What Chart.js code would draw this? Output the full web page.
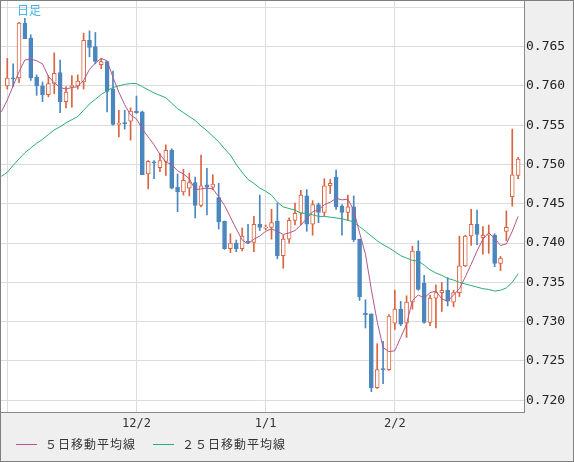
<!DOCTYPE html>
<html>
<head>
<meta charset="utf-8">
<script src="https://cdn.jsdelivr.net/npm/chart.js@4.4.1/dist/chart.umd.min.js"></script>
<style>
html, body { margin: 0; padding: 0; background: #efefef; }
#wrap { position: relative; width: 574px; height: 462px; }
#tag { position: absolute; left: 17px; top: 2px; font: 12px "Noto Sans CJK JP"; line-height: 16px; color: #3fb5e6; }
.lg-line { position: absolute; top: 444px; width: 21px; height: 0; border-top: 1px solid; }
.lg-text { position: absolute; top: 436px; font: 12px "Noto Sans CJK JP"; line-height: 16px; letter-spacing: 1px; color: #333; }
</style>
</head>
<body>
<div id="wrap">
  <canvas id="fx-canvas" width="574" height="462"></canvas>
  <div id="tag">日足</div>
  <div class="lg-line" style="left:16px;border-color:#b5578a"></div>
  <div class="lg-text" style="left:45px">５日移動平均線</div>
  <div class="lg-line" style="left:153px;border-color:#2aae76"></div>
  <div class="lg-text" style="left:182px">２５日移動平均線</div>
</div>
<script>
// ========== Colors
let upColor = '#d9643f';
let downColor = '#4b87bf';
let ma5Color = '#b5578a';
let ma25Color = '#2aae76';
let gridColor = '#dcdcdc';

// ========== Daily candles (index 0 = first candle on screen)
let opens = [
    0.7600, 0.7610, 0.7610, 0.7680, 0.7661, 0.7611, 0.7600, 0.7589, 0.7603, 0.7617,
    0.7580, 0.7599, 0.7600, 0.7605, 0.7658, 0.7650, 0.7627, 0.7631, 0.7596, 0.7551,
    0.7553, 0.7555, 0.7568, 0.7567, 0.7488, 0.7503, 0.7496, 0.7504, 0.7518, 0.7471,
    0.7465, 0.7470, 0.7477, 0.7448, 0.7474, 0.7471, 0.7458, 0.7428, 0.7393, 0.7400,
    0.7393, 0.7402, 0.7401, 0.7424, 0.7419, 0.7420, 0.7428, 0.7384, 0.7405, 0.7429,
    0.7438, 0.7460, 0.7424, 0.7449, 0.7439, 0.7473, 0.7484, 0.7447, 0.7439, 0.7446,
    0.7405, 0.7311, 0.7310, 0.7216, 0.7240, 0.7239, 0.7298, 0.7316, 0.7298, 0.7325,
    0.7390, 0.7349, 0.7299, 0.7330, 0.7337, 0.7340, 0.7325, 0.7337, 0.7371, 0.7409,
    0.7424, 0.7407, 0.7410, 0.7410, 0.7374, 0.7415, 0.7459, 0.7486
];
let highs = [
    0.7635, 0.7628, 0.7681, 0.7686, 0.7665, 0.7614, 0.7605, 0.7613, 0.7642, 0.7633,
    0.7599, 0.7613, 0.7614, 0.7667, 0.7670, 0.7668, 0.7635, 0.7631, 0.7619, 0.7569,
    0.7569, 0.7572, 0.7587, 0.7568, 0.7505, 0.7505, 0.7514, 0.7525, 0.7520, 0.7488,
    0.7494, 0.7489, 0.7484, 0.7512, 0.7495, 0.7487, 0.7476, 0.7428, 0.7412, 0.7404,
    0.7419, 0.7424, 0.7434, 0.7461, 0.7423, 0.7443, 0.7451, 0.7410, 0.7432, 0.7451,
    0.7467, 0.7468, 0.7454, 0.7451, 0.7482, 0.7481, 0.7493, 0.7449, 0.7461, 0.7460,
    0.7405, 0.7328, 0.7310, 0.7272, 0.7275, 0.7309, 0.7340, 0.7326, 0.7333, 0.7396,
    0.7403, 0.7359, 0.7334, 0.7347, 0.7350, 0.7356, 0.7340, 0.7409, 0.7410, 0.7443,
    0.7442, 0.7421, 0.7423, 0.7412, 0.7383, 0.7441, 0.7545, 0.7509
];
let lows = [
    0.7596, 0.7599, 0.7604, 0.7660, 0.7607, 0.7588, 0.7580, 0.7586, 0.7590, 0.7566,
    0.7572, 0.7573, 0.7596, 0.7596, 0.7637, 0.7628, 0.7622, 0.7567, 0.7550, 0.7535,
    0.7545, 0.7531, 0.7565, 0.7487, 0.7469, 0.7482, 0.7491, 0.7486, 0.7469, 0.7440,
    0.7461, 0.7460, 0.7432, 0.7446, 0.7436, 0.7468, 0.7418, 0.7392, 0.7388, 0.7389,
    0.7390, 0.7400, 0.7389, 0.7416, 0.7417, 0.7405, 0.7380, 0.7368, 0.7400, 0.7423,
    0.7423, 0.7415, 0.7410, 0.7426, 0.7435, 0.7463, 0.7443, 0.7410, 0.7429, 0.7402,
    0.7327, 0.7292, 0.7211, 0.7215, 0.7221, 0.7238, 0.7290, 0.7295, 0.7280, 0.7316,
    0.7340, 0.7298, 0.7295, 0.7292, 0.7313, 0.7320, 0.7319, 0.7332, 0.7370, 0.7397,
    0.7398, 0.7386, 0.7387, 0.7370, 0.7365, 0.7403, 0.7447, 0.7482
];
let closes = [
    0.7610, 0.7609, 0.7680, 0.7660, 0.7610, 0.7600, 0.7589, 0.7603, 0.7616, 0.7580,
    0.7592, 0.7600, 0.7606, 0.7658, 0.7649, 0.7631, 0.7631, 0.7593, 0.7551, 0.7552,
    0.7552, 0.7568, 0.7566, 0.7487, 0.7504, 0.7502, 0.7505, 0.7518, 0.7470, 0.7465,
    0.7480, 0.7477, 0.7448, 0.7473, 0.7471, 0.7475, 0.7427, 0.7393, 0.7400, 0.7393,
    0.7409, 0.7401, 0.7424, 0.7420, 0.7420, 0.7426, 0.7384, 0.7405, 0.7429, 0.7438,
    0.7461, 0.7424, 0.7449, 0.7439, 0.7473, 0.7476, 0.7446, 0.7439, 0.7446, 0.7404,
    0.7332, 0.7309, 0.7216, 0.7239, 0.7239, 0.7307, 0.7316, 0.7297, 0.7325, 0.7390,
    0.7341, 0.7299, 0.7330, 0.7337, 0.7340, 0.7326, 0.7337, 0.7371, 0.7409, 0.7424,
    0.7411, 0.7410, 0.7411, 0.7374, 0.7381, 0.7420, 0.7487, 0.7507
];

// ========== Moving averages (first value = the day before the first candle)
let ma5 = [
    0.7567,
    0.7582, 0.7600, 0.7618, 0.7633, 0.7634, 0.7632, 0.7628, 0.7612, 0.7604, 0.7598,
    0.7596, 0.7598, 0.7599, 0.7607, 0.7621, 0.7629, 0.7635, 0.7632, 0.7611, 0.7592,
    0.7576, 0.7563, 0.7558, 0.7545, 0.7535, 0.7525, 0.7513, 0.7503, 0.7500, 0.7492,
    0.7488, 0.7482, 0.7468, 0.7469, 0.7470, 0.7469, 0.7459, 0.7448, 0.7433, 0.7418,
    0.7404, 0.7399, 0.7405, 0.7409, 0.7415, 0.7418, 0.7415, 0.7411, 0.7413, 0.7416,
    0.7423, 0.7431, 0.7440, 0.7442, 0.7449, 0.7452, 0.7457, 0.7455, 0.7456, 0.7442,
    0.7413, 0.7386, 0.7341, 0.7300, 0.7267, 0.7262, 0.7263, 0.7280, 0.7297, 0.7327,
    0.7334, 0.7330, 0.7337, 0.7339, 0.7329, 0.7326, 0.7334, 0.7342, 0.7357, 0.7373,
    0.7390, 0.7405, 0.7413, 0.7406, 0.7397, 0.7399, 0.7415, 0.7434
];
let ma25 = [
    0.7485,
    0.7490, 0.7499, 0.7507, 0.7515, 0.7521, 0.7527, 0.7532, 0.7538, 0.7544, 0.7548,
    0.7553, 0.7557, 0.7561, 0.7569, 0.7577, 0.7583, 0.7589, 0.7594, 0.7598, 0.7600,
    0.7602, 0.7603, 0.7603, 0.7599, 0.7595, 0.7591, 0.7588, 0.7585, 0.7578, 0.7571,
    0.7566, 0.7561, 0.7556, 0.7549, 0.7543, 0.7536, 0.7529, 0.7520, 0.7512, 0.7500,
    0.7490, 0.7481, 0.7476, 0.7470, 0.7466, 0.7461, 0.7452, 0.7446, 0.7444, 0.7442,
    0.7438, 0.7438, 0.7436, 0.7434, 0.7434, 0.7433, 0.7432, 0.7431, 0.7429, 0.7427,
    0.7421, 0.7415, 0.7409, 0.7403, 0.7398, 0.7394, 0.7389, 0.7384, 0.7381, 0.7378,
    0.7377, 0.7372, 0.7366, 0.7362, 0.7359, 0.7355, 0.7353, 0.7350, 0.7348, 0.7346,
    0.7344, 0.7342, 0.7341, 0.7339, 0.7340, 0.7343, 0.7350, 0.7361
];

// ========== Axis ticks
let xTickPos = [0, 22, 44, 66];
let xTickLabels = ['', '12/2', '1/1', '2/2'];
let yTicks = [0.720, 0.725, 0.730, 0.735, 0.740, 0.745, 0.750, 0.755, 0.760, 0.765, 0.770];
let yTickLabels = ['0.720', '0.725', '0.730', '0.735', '0.740', '0.745', '0.750', '0.755', '0.760', '0.765', ''];

let candleColors = closes.map((c, i) => c >= opens[i] ? upColor : downColor);
let bodyFills = closes.map((c, i) => c >= opens[i] ? '#ffffff' : downColor);

// white plot area + outer frame
let framePlugin = {
    id: 'frame',
    beforeDraw(chart) {
        let a = chart.chartArea, ctx = chart.ctx;
        ctx.save();
        ctx.fillStyle = '#ffffff';
        ctx.fillRect(a.left, a.top, a.right - a.left, a.bottom - a.top);
        ctx.restore();
    },
    afterDraw(chart) {
        let ctx = chart.ctx;
        ctx.save();
        ctx.strokeStyle = '#7f7f7f';
        ctx.lineWidth = 1;
        ctx.strokeRect(0.5, 0.5, chart.width - 1, chart.height - 1);
        ctx.restore();
    }
};

var fxCanvas = document.getElementById('fx-canvas');
var fxChart = new Chart(fxCanvas, {
    type: 'bar',
    data: {
        datasets: [{
            // wicks
            data: highs.map((h, i) => ({ x: i, y: [lows[i], h] })),
            backgroundColor: candleColors,
            barThickness: 1,
            grouped: false,
            order: 4
        }, {
            // bodies
            data: opens.map((o, i) => ({ x: i, y: [o, closes[i]] })),
            backgroundColor: bodyFills,
            borderColor: candleColors,
            borderWidth: 1,
            borderSkipped: false,
            barThickness: 4,
            minBarLength: 1,
            grouped: false,
            order: 3
        }, {
            type: 'line',
            label: '25日移動平均線',
            data: ma25.map((v, i) => ({ x: i - 1, y: v })),
            borderColor: ma25Color,
            borderWidth: 1,
            pointRadius: 0,
            tension: 0,
            order: 2
        }, {
            type: 'line',
            label: '5日移動平均線',
            data: ma5.map((v, i) => ({ x: i - 1, y: v })),
            borderColor: ma5Color,
            borderWidth: 1,
            pointRadius: 0,
            tension: 0,
            order: 1
        }]
    },
    options: {
        responsive: false,
        animation: false,
        events: [],
        layout: { padding: { left: 1, top: 1, right: 0, bottom: 26 } },
        plugins: { legend: { display: false }, tooltip: { enabled: false } },
        scales: {
            x: {
                type: 'linear',
                min: -1.07,
                max: 88.0,
                offset: false,
                afterBuildTicks: s => { s.ticks = xTickPos.map(v => ({ value: v })); },
                afterFit: s => {
                    s.height = 24;
                    s.paddingLeft = 0;
                    s.paddingRight = 0;
                },
                ticks: {
                    autoSkip: false,
                    maxRotation: 0,
                    padding: 5,
                    color: '#333',
                    font: { family: 'DejaVu Sans Mono', size: 12 },
                    callback: v => xTickLabels[xTickPos.indexOf(v)]
                },
                grid: { color: gridColor, drawTicks: false, offset: false },
                border: { color: '#8a8a8a' }
            },
            y: {
                position: 'right',
                min: 0.718511,
                max: 0.770802,
                afterBuildTicks: s => { s.ticks = yTicks.map(v => ({ value: v })); },
                afterFit: s => {
                    s.width = 50;
                    s.paddingTop = 0;
                    s.paddingBottom = 0;
                },
                ticks: {
                    padding: 2,
                    color: '#222',
                    font: { family: 'DejaVu Sans Mono', size: 13 },
                    callback: (v, idx) => yTickLabels[idx]
                },
                grid: { color: gridColor, drawTicks: false },
                border: { color: '#8a8a8a' }
            }
        }
    },
    plugins: [framePlugin]
});
</script>
</body>
</html>
